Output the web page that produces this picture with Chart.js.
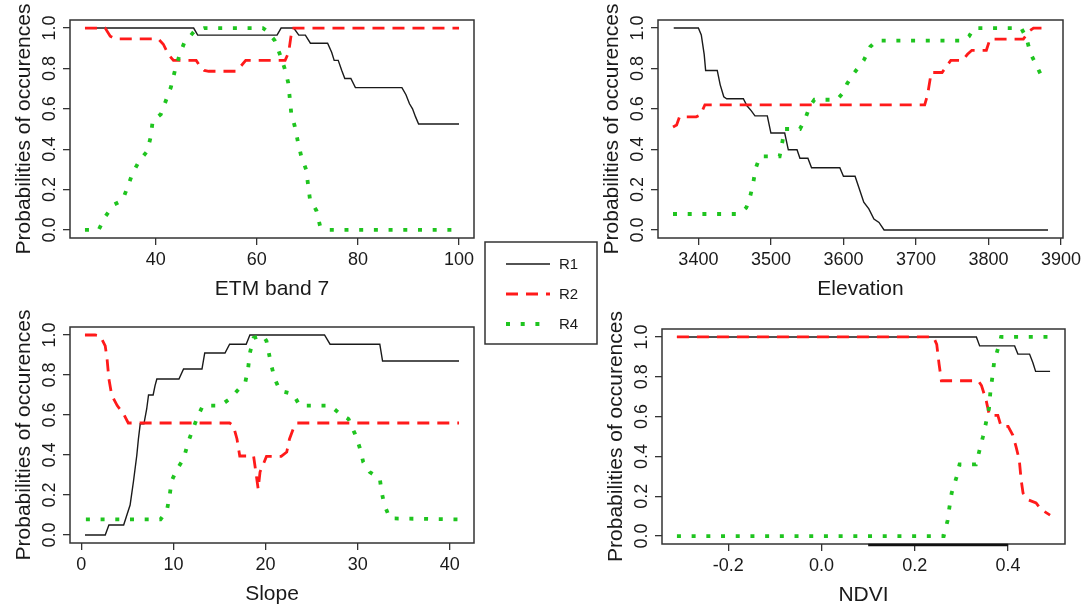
<!DOCTYPE html>
<html>
<head>
<meta charset="utf-8">
<script src="https://cdn.jsdelivr.net/npm/chart.js@4.4.1/dist/chart.umd.min.js"></script>
<style>
html, body { margin: 0; padding: 0; background: #fff; }
body { width: 1089px; height: 612px; position: relative; overflow: hidden; }
.panel { position: absolute; }
#legend { position: absolute; left: 483px; top: 240px; z-index: 5; }
</style>
</head>
<body>
<div class="panel" id="p1"><canvas id="c1"></canvas></div>
<div class="panel" id="p2"><canvas id="c2"></canvas></div>
<div class="panel" id="p3"><canvas id="c3"></canvas></div>
<div class="panel" id="p4"><canvas id="c4"></canvas></div>
<canvas id="legend" width="116" height="106"></canvas>
<script>
// series names and shared y axis
const seriesNames = ["R1", "R2", "R4"];
const yTicks = [0, 0.2, 0.4, 0.6, 0.8, 1.0];
const yTitle = "Probabilities of occurences";

// ETM band 7  [x, probability]
const etmTicks = [40, 60, 80, 100];
const etmR1 = [[26,1.0],[47.5,1.0],[48.3,0.965],[64,0.965],[64.8,1.0],[67.3,1.0],[68.3,0.965],[69.6,0.965],
  [70.6,0.925],[74,0.925],[74.8,0.88],[75.3,0.84],[76.1,0.84],[76.8,0.79],[77.4,0.75],[78.6,0.75],
  [79.5,0.705],[88.7,0.705],[89.5,0.67],[90.2,0.625],[90.8,0.6],[91.4,0.56],[92,0.525],[100,0.525]];
const etmR2 = [[26,1.0],[30,1.0],[31,0.96],[32,0.946],[40.5,0.946],[41.5,0.92],[42.5,0.87],[43.5,0.84],
  [48,0.84],[48.8,0.81],[49.6,0.79],[50.5,0.786],[55.8,0.786],[56.8,0.81],[57.8,0.84],[65.6,0.84],
  [66.3,0.88],[66.7,0.95],[67,1.0],[100,1.0]];
const etmR4 = [[26,0],[28.7,0],[30,0.065],[31.7,0.125],[33.4,0.146],[34.4,0.21],[35.4,0.28],[36.7,0.34],
  [38.3,0.39],[39,0.46],[39.4,0.54],[41,0.573],[42,0.64],[43,0.707],[43.8,0.79],[44.6,0.858],[45.6,0.925],
  [47.6,0.983],[49.6,1.0],[61.2,1.0],[61.9,0.987],[63.5,0.94],[64.5,0.874],[65.5,0.8],[66.2,0.73],
  [66.5,0.657],[66.8,0.58],[67.5,0.514],[68.1,0.44],[68.8,0.363],[69.8,0.296],[70.1,0.23],[70.5,0.154],
  [71.8,0.095],[72.5,0.02],[74.4,0],[100,0]];

// Elevation
const elevTicks = [3400, 3500, 3600, 3700, 3800, 3900];
const elevR1 = [[3366,1.0],[3400,1.0],[3404,0.966],[3408,0.87],[3410,0.79],[3426,0.79],[3430,0.72],
  [3435,0.66],[3439,0.65],[3462,0.65],[3467,0.615],[3473,0.59],[3478,0.565],[3495,0.565],[3500,0.48],
  [3519,0.48],[3524,0.397],[3536,0.397],[3540,0.355],[3551,0.355],[3556,0.308],[3595,0.308],[3600,0.266],
  [3616,0.266],[3621,0.213],[3628,0.137],[3635,0.104],[3642,0.054],[3649,0.037],[3656,0],[3882,0]];
const elevR2 = [[3365,0.51],[3370,0.52],[3374,0.56],[3397,0.56],[3403,0.57],[3409,0.62],[3712,0.62],
  [3716,0.67],[3721,0.78],[3736,0.78],[3742,0.81],[3748,0.84],[3764,0.84],[3771,0.87],[3777,0.89],
  [3797,0.89],[3802,0.945],[3848,0.945],[3856,0.985],[3862,1.0],[3882,1.0]];
const elevR4 = [[3365,0.079],[3452,0.079],[3460,0.09],[3466,0.11],[3470,0.146],[3475,0.22],[3479,0.305],
  [3485,0.364],[3512,0.364],[3515,0.42],[3519,0.5],[3540,0.5],[3547,0.548],[3554,0.615],[3560,0.645],
  [3591,0.645],[3598,0.673],[3605,0.724],[3614,0.774],[3628,0.84],[3637,0.908],[3646,0.938],[3766,0.938],
  [3773,0.958],[3780,1.0],[3845,1.0],[3852,0.953],[3858,0.874],[3868,0.8],[3872,0.77]];

// Slope
const slopeTicks = [0, 10, 20, 30, 40];
const slopeR1 = [[0.4,0],[2.6,0],[3,0.05],[4.6,0.05],[4.95,0.1],[5.3,0.15],[5.67,0.27],[6.03,0.4],
  [6.2,0.48],[6.4,0.556],[6.8,0.556],[7.1,0.63],[7.3,0.7],[7.8,0.7],[8,0.746],[8.2,0.78],[10.6,0.78],
  [11.1,0.83],[13.1,0.83],[13.4,0.91],[15.6,0.91],[16.1,0.954],[17.9,0.954],[18.3,1.0],[26.4,1.0],
  [27,0.954],[32.4,0.954],[32.7,0.87],[41,0.87]];
const slopeR2 = [[0.4,1.0],[1.5,1.0],[2.06,0.995],[2.6,0.945],[2.8,0.88],[3,0.78],[3.3,0.7],[3.9,0.647],
  [4.6,0.605],[5.1,0.56],[16.1,0.56],[16.5,0.547],[16.9,0.48],[17.2,0.395],[18.7,0.395],[18.9,0.33],
  [19.2,0.23],[19.4,0.315],[19.7,0.348],[20.1,0.393],[21.7,0.393],[22.3,0.415],[22.6,0.48],[23,0.53],
  [23.4,0.56],[41,0.56]];
const slopeR4 = [[0.5,0.078],[8.6,0.078],[9.3,0.124],[9.6,0.2],[9.8,0.27],[10.4,0.33],[11.1,0.38],
  [11.6,0.464],[12.2,0.54],[12.7,0.6],[13.2,0.647],[15.1,0.647],[16.1,0.68],[16.9,0.72],[17.8,0.763],
  [18.1,0.83],[18.3,0.91],[18.7,0.985],[19.7,1.0],[20.1,0.97],[20.6,0.854],[21,0.78],[21.6,0.72],
  [23,0.705],[23.7,0.647],[27,0.647],[28.1,0.605],[29,0.58],[29.7,0.506],[30.2,0.44],[30.6,0.365],
  [31.3,0.315],[32.4,0.282],[32.6,0.215],[32.9,0.15],[33.5,0.083],[41,0.078]];

// NDVI
const ndviTicks = [-0.2, 0.0, 0.2, 0.4];
const ndviR1 = [[-0.31,1.0],[0.332,1.0],[0.339,0.955],[0.414,0.955],[0.421,0.914],[0.446,0.914],
  [0.453,0.872],[0.459,0.827],[0.49,0.827]];
const ndviR2 = [[-0.31,1.0],[0.24,1.0],[0.247,0.963],[0.252,0.864],[0.257,0.78],[0.336,0.78],[0.343,0.756],
  [0.353,0.681],[0.36,0.606],[0.378,0.606],[0.385,0.551],[0.4,0.551],[0.41,0.507],[0.417,0.449],
  [0.424,0.382],[0.428,0.282],[0.432,0.216],[0.442,0.183],[0.46,0.166],[0.471,0.133],[0.49,0.105]];
const ndviR4 = [[-0.31,0],[0.262,0],[0.27,0.075],[0.274,0.141],[0.279,0.216],[0.29,0.3],[0.296,0.36],
  [0.331,0.36],[0.338,0.424],[0.346,0.498],[0.353,0.573],[0.359,0.64],[0.362,0.723],[0.366,0.794],
  [0.37,0.872],[0.378,0.939],[0.385,1.0],[0.49,1.0]];
// the heavier stretch of axis line under the NDVI panel
const ndviAxisRun = [0.1, 0.4];

const FONT = '"Liberation Sans", Arial, sans-serif';
const INK = "#1a1a1a";
const styles = [
  {color: "#1a1a1a", width: 1.4, dash: []},
  {color: "#ff1a1a", width: 2.8, dash: [12, 8]},
  {color: "#1fc41f", width: 3.8, dash: [4, 10.7]}
];

// box round the plot region, like R's box()
const boxPlugin = {
  id: "box",
  afterDatasetsDraw(chart, args, opts) {
    const {ctx, chartArea: a} = chart;
    ctx.save();
    ctx.strokeStyle = "#333";
    ctx.lineWidth = 1.5;
    ctx.strokeRect(a.left, a.top, a.right - a.left, a.bottom - a.top);
    if (opts.run) {
      const x = chart.scales.x;
      ctx.strokeStyle = "#111";
      ctx.lineWidth = 2.4;
      ctx.beginPath();
      ctx.moveTo(x.getPixelForValue(opts.run[0]), a.bottom + 1);
      ctx.lineTo(x.getPixelForValue(opts.run[1]), a.bottom + 1);
      ctx.stroke();
    }
    ctx.restore();
  }
};

function makePanel(n, frame, area, title, xTicks, xFmt, series, run) {
  const div = document.getElementById("p" + n);
  div.style.left = frame.x + "px";
  div.style.top = frame.y + "px";
  const cv = document.getElementById("c" + n);
  cv.width = frame.w; cv.height = frame.h;

  const yWidth = area.l - frame.x;
  const xHeight = frame.y + frame.h - area.b;

  // R pads the data range by 4% each side
  const xs = series.flat().map(p => p[0]);
  const lo = Math.min(...xs), hi = Math.max(...xs), ext = (hi - lo) * 0.04;

  const grid = {drawOnChartArea: false, drawTicks: true, tickLength: 7, color: "#333", lineWidth: 1.3};

  new Chart(cv, {
    type: "line",
    data: {
      datasets: series.map((s, i) => ({
        label: seriesNames[i],
        data: s.map(p => ({x: p[0], y: p[1]})),
        borderColor: styles[i].color,
        borderWidth: styles[i].width,
        borderDash: styles[i].dash,
        borderCapStyle: "butt",
        pointRadius: 0,
        tension: 0,
        fill: false,
        order: 3 - i
      }))
    },
    options: {
      responsive: false,
      animation: false,
      layout: {padding: {left: 0, top: area.t - frame.y, right: frame.x + frame.w - area.r, bottom: 0}},
      plugins: {legend: {display: false}, tooltip: {enabled: false}, box: {run: run || null}},
      scales: {
        x: {
          type: "linear",
          min: lo - ext, max: hi + ext,
          afterBuildTicks: s => { s.ticks = xTicks.map(v => ({value: v})); },
          afterFit: s => { s.height = xHeight; },
          grid: grid,
          border: {display: false},
          ticks: {maxRotation: 0, autoSkip: false, padding: 4, color: INK,
                  font: {family: FONT, size: 18}, callback: xFmt},
          title: {display: true, text: title, color: INK, font: {family: FONT, size: 21},
                  padding: {top: 0, bottom: xHeight - 51 - 12.6}}
        },
        y: {
          type: "linear",
          min: -0.04, max: 1.04,
          afterBuildTicks: s => { s.ticks = yTicks.map(v => ({value: v})); },
          afterFit: s => { s.width = yWidth; },
          grid: grid,
          border: {display: false},
          ticks: {minRotation: 90, maxRotation: 90, crossAlign: "center", padding: 0, autoSkip: false,
                  color: INK, font: {family: FONT, size: 18}, callback: v => v.toFixed(1)},
          title: {display: true, text: yTitle, color: INK, font: {family: FONT, size: 21},
                  padding: {top: yWidth - 46 - 12.6, bottom: 0}}
        }
      }
    },
    plugins: [boxPlugin]
  });
}

makePanel(1, {x: 0, y: 0, w: 490, h: 306}, {l: 70, t: 20, r: 474, b: 238},
  "ETM band 7", etmTicks, v => String(v), [etmR1, etmR2, etmR4]);
makePanel(2, {x: 588, y: 0, w: 501, h: 306}, {l: 658, t: 20, r: 1063, b: 238},
  "Elevation", elevTicks, v => String(v), [elevR1, elevR2, elevR4]);
makePanel(3, {x: 0, y: 306, w: 490, h: 306}, {l: 70, t: 327, r: 474, b: 543},
  "Slope", slopeTicks, v => String(v), [slopeR1, slopeR2, slopeR4]);
makePanel(4, {x: 592, y: 306, w: 497, h: 306}, {l: 662, t: 329, r: 1065, b: 544},
  "NDVI", ndviTicks, v => v.toFixed(1), [ndviR1, ndviR2, ndviR4], ndviAxisRun);

// shared legend in the middle
const lg = document.getElementById("legend").getContext("2d");
lg.strokeStyle = "#333";
lg.lineWidth = 1.5;
lg.strokeRect(2, 2, 112, 102);
seriesNames.forEach((name, i) => {
  const y = 24 + i * 30;
  lg.save();
  lg.strokeStyle = styles[i].color;
  lg.lineWidth = styles[i].width;
  lg.setLineDash(styles[i].dash);
  lg.beginPath();
  lg.moveTo(23, y);
  lg.lineTo(67, y);
  lg.stroke();
  lg.restore();
  lg.fillStyle = INK;
  lg.font = "15px " + FONT;
  lg.textBaseline = "middle";
  lg.fillText(name, 76, y + 1);
});
</script>
</body>
</html>
